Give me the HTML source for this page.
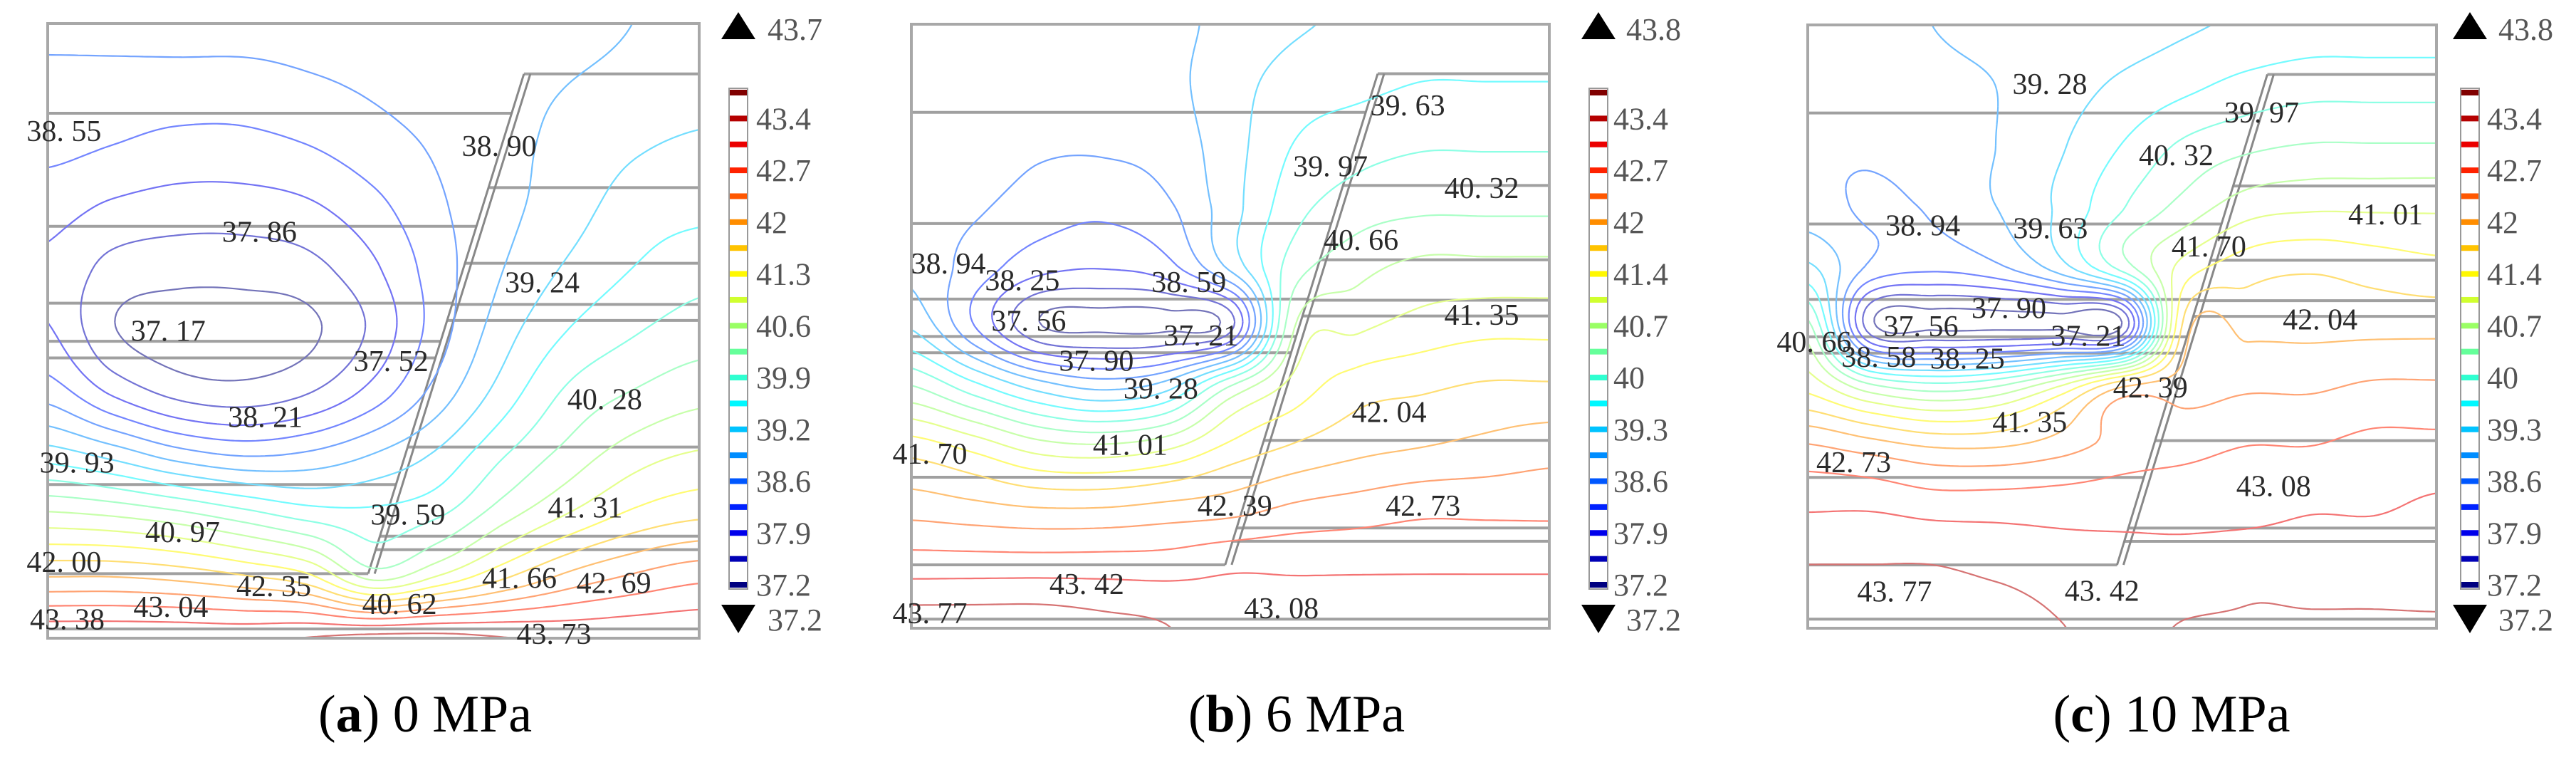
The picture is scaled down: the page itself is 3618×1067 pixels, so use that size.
<!DOCTYPE html>
<html><head><meta charset="utf-8"><style>
html,body{margin:0;padding:0;background:#fff;}
svg{display:block;}
text{font-family:"Liberation Serif",serif;}
</style></head><body>
<svg id="fig" width="3618" height="1067" viewBox="0 0 3618 1067" xmlns="http://www.w3.org/2000/svg"></svg>
<script>
// ---------- DATA ----------
const gridA = [
[38.9,38.9,38.9,38.9,38.9,38.9,38.9,38.9,39.0,39.1,39.2],
[38.6,38.6,38.6,38.6,38.7,38.8,38.9,39.0,39.1,39.2,39.3],
[38.5,38.4,38.3,38.3,38.4,38.6,38.8,39.0,39.2,39.4,39.5],
[38.2,38.0,37.9,37.9,38.0,38.3,38.7,39.0,39.3,39.6,39.7],
[38.0,37.6,37.5,37.5,37.6,38.0,38.6,39.1,39.5,39.8,40.0],
[38.1,37.4,37.2,37.2,37.3,37.8,38.6,39.3,39.8,40.1,40.3],
[38.6,38.0,37.6,37.5,37.7,38.2,38.9,39.6,40.2,40.5,40.7],
[39.6,39.3,38.9,38.7,38.8,39.1,39.5,40.1,40.6,41.0,41.2],
[40.9,40.8,40.6,40.3,40.0,39.9,40.1,40.7,41.2,41.6,41.8],
[42.2,42.2,42.1,41.9,41.6,40.7,41.2,41.8,42.3,42.6,42.8],
[43.5,43.5,43.5,43.5,43.6,43.7,43.7,43.6,43.5,43.5,43.5]];
const gridB = [
[39.0,38.9,38.9,38.9,39.0,39.2,39.4,39.5,39.6,39.6,39.6],
[38.9,38.9,38.9,38.9,39.0,39.3,39.6,39.7,39.8,39.8,39.8],
[38.9,38.9,38.8,38.8,38.9,39.3,39.8,40.0,40.1,40.1,40.1],
[38.9,38.8,38.6,38.5,38.7,39.3,40.0,40.3,40.4,40.4,40.4],
[39.0,38.6,38.2,38.1,38.3,39.2,40.3,40.7,40.9,40.9,40.9],
[39.4,38.4,37.4,37.3,37.3,37.6,40.8,41.1,41.3,41.4,41.4],
[40.5,39.9,39.3,39.0,39.3,40.5,41.3,41.7,41.8,41.9,41.9],
[41.7,41.4,41.0,40.9,41.1,41.6,41.9,42.1,42.2,42.3,42.4],
[42.4,42.3,42.2,42.2,42.3,42.4,42.6,42.7,42.8,42.8,42.8],
[43.1,43.1,43.1,43.1,43.1,43.2,43.2,43.2,43.2,43.2,43.2],
[43.8,43.8,43.8,43.7,43.6,43.3,43.3,43.4,43.5,43.5,43.5]];
const gridC = [
[39.0,39.0,39.1,39.2,39.3,39.3,39.4,39.5,39.6,39.6,39.6],
[38.9,38.9,39.0,39.1,39.3,39.5,39.7,39.9,40.0,40.0,40.0],
[38.8,38.8,38.9,39.1,39.4,39.8,40.2,40.4,40.5,40.5,40.5],
[38.9,38.7,38.8,39.1,39.5,40.1,40.6,41.0,41.1,41.1,41.1],
[39.5,38.7,38.5,38.7,39.3,40.3,41.3,41.7,41.8,41.7,41.6],
[40.6,37.5,37.3,37.3,37.3,37.4,42.0,42.1,42.1,42.1,42.1],
[41.4,40.6,40.3,40.5,41.2,42.2,42.4,42.5,42.5,42.6,42.6],
[42.6,42.4,42.2,42.2,42.4,42.7,42.8,42.9,42.9,43.0,43.0],
[43.2,43.2,43.1,43.1,43.1,43.1,43.1,43.1,43.2,43.2,43.3],
[43.6,43.6,43.6,43.5,43.4,43.4,43.4,43.5,43.5,43.5,43.5],
[43.8,43.8,43.8,43.8,43.6,43.5,43.6,43.6,43.6,43.6,43.6]];
const labelValsA = [38.55,38.90,37.86,39.24,37.17,37.52,40.28,38.21,39.93,39.59,41.31,40.97,42.00,42.35,41.66,42.69,43.04,40.62,43.38,43.73];
const labelUA = [0.025,0.693,0.325,0.759,0.185,0.527,0.855,0.334,0.045,0.553,0.825,0.207,0.025,0.347,0.724,0.869,0.189,0.54,0.03,0.777];
const labelVA = [0.174,0.198,0.338,0.42,0.499,0.548,0.61,0.639,0.713,0.798,0.786,0.826,0.875,0.914,0.901,0.909,0.948,0.943,0.968,0.992];
const labelValsB = [39.63,39.97,40.32,40.66,38.94,38.25,38.59,37.56,37.21,41.35,37.90,39.28,42.04,41.70,41.01,42.39,42.73,43.42,43.77,43.08];
const labelUB = [0.778,0.657,0.894,0.705,0.058,0.174,0.435,0.184,0.454,0.894,0.29,0.391,0.749,0.029,0.343,0.507,0.802,0.275,0.029,0.58];
const labelVB = [0.133,0.234,0.27,0.356,0.395,0.423,0.426,0.49,0.514,0.48,0.556,0.602,0.641,0.71,0.695,0.796,0.796,0.926,0.974,0.966];
const labelValsC = [39.28,39.97,40.32,41.01,38.94,39.63,41.70,37.90,42.04,37.56,37.21,38.58,38.25,40.66,42.39,41.35,42.73,43.08,43.77,43.42];
const labelUC = [0.385,0.722,0.586,0.919,0.183,0.386,0.638,0.32,0.815,0.18,0.446,0.113,0.254,0.01,0.545,0.353,0.073,0.741,0.138,0.468];
const labelVC = [0.097,0.144,0.215,0.313,0.331,0.336,0.366,0.468,0.487,0.498,0.514,0.549,0.552,0.524,0.6,0.657,0.724,0.763,0.938,0.937];
const barLabelsA = ["43.4","42.7","42","41.3","40.6","39.9","39.2","38.6","37.9","37.2"];
const barLabelsBC = ["43.4","42.7","42","41.4","40.7","40","39.3","38.6","37.9","37.2"];
const maxLabels = ["43.7","43.8","43.8"];
const minLabels = ["37.2","37.2","37.2"];
const captionLetters = ["a","b","c"];
const captionPressures = ["0 MPa","6 MPa","10 MPa"];
const levelMin = 37.2, levelStep = 0.345, levelCount = 20;

// ---------- LAYOUT ----------
const NS = "http://www.w3.org/2000/svg";
const svg = document.getElementById("fig");
const panels = [
 {x0:67,y0:33,w:915,h:863, bar:1024, barLbl:1062, arrLbl:1078, cap:597},
 {x0:1280,y0:34,w:896,h:848, bar:2232, barLbl:2266, arrLbl:2284, cap:1821},
 {x0:2539,y0:35,w:883,h:847, bar:3456, barLbl:3493, arrLbl:3509, cap:3050}];
const grids=[gridA,gridB,gridC];
const labVals=[labelValsA,labelValsB,labelValsC], labU=[labelUA,labelUB,labelUC], labV=[labelVA,labelVB,labelVC];

function mk(tag, attrs, parent){const e=document.createElementNS(NS,tag);for(const k in attrs)e.setAttribute(k,attrs[k]);(parent||svg).appendChild(e);return e;}
function jet(t){t=Math.max(0,Math.min(1,t));
 const r=Math.max(0,Math.min(1,1.5-Math.abs(4*t-3))),g=Math.max(0,Math.min(1,1.5-Math.abs(4*t-2))),b=Math.max(0,Math.min(1,1.5-Math.abs(4*t-1)));
 return "rgb("+Math.round(r*255)+","+Math.round(g*255)+","+Math.round(b*255)+")";}
function jetLight(t){const c=jet(t).match(/\d+/g).map(Number);return "rgb("+c.map(x=>Math.round(x*0.55+255*0.45)).join(",")+")";}
function cr(p0,p1,p2,p3,t){return 0.5*(2*p1+(-p0+p2)*t+(2*p0-5*p1+4*p2-p3)*t*t+(-p0+3*p1-3*p2+p3)*t*t*t);}
function sample(g,u,v){const R=g.length,C=g[0].length;const gx=u*(C-1),gy=v*(R-1);
 const i=Math.min(C-2,Math.floor(gx)),j=Math.min(R-2,Math.floor(gy));const tx=gx-i,ty=gy-j;
 const ci=k=>Math.max(0,Math.min(C-1,k)),cj=k=>Math.max(0,Math.min(R-1,k));
 const rows=[];for(let dj=-1;dj<=2;dj++){const row=g[cj(j+dj)];rows.push(cr(row[ci(i-1)],row[ci(i)],row[ci(i+1)],row[ci(i+2)],tx));}
 return cr(rows[0],rows[1],rows[2],rows[3],ty);}

const leftLines=[0.146,0.330,0.455,0.517,0.544,0.750,0.895];
const rightLines=[0.082,0.267,0.390,0.457,0.483,0.689,0.834,0.856];
const faultTop={u:0.731,v:0.082}, faultBot={u:0.492,v:0.895};
function faultU(v){return faultBot.u+(faultTop.u-faultBot.u)*(v-faultBot.v)/(faultTop.v-faultBot.v);}

panels.forEach((P,pi)=>{
 const g=mk("g",{});
 
 
 const X=u=>P.x0+u*P.w, Y=v=>P.y0+v*P.h;
 const lay=mk("g",{stroke:"#a0a0a0","stroke-width":4,fill:"none"},g);
 
 
 leftLines.forEach(v=>{mk("line",{x1:X(0),y1:Y(v),x2:X(faultU(v)),y2:Y(v)},lay);});
 rightLines.forEach(v=>{mk("line",{x1:X(faultU(v)),y1:Y(v),x2:X(1),y2:Y(v)},lay);});
 mk("line",{x1:X(0),y1:Y(0.985),x2:X(1),y2:Y(0.985)},lay);
 const fl=mk("path",{d:"M"+X(faultTop.u)+" "+Y(faultTop.v)+"L"+X(faultBot.u)+" "+Y(faultBot.v)+"M"+(X(faultTop.u)+9)+" "+Y(faultTop.v)+"L"+(X(faultBot.u)+9)+" "+Y(faultBot.v),stroke:"#888","stroke-width":3},lay);
 
 
 const grid=grids[pi];const NX=150,NY=140;const F=[];
 for(let j=0;j<=NY;j++){const r=[];for(let i=0;i<=NX;i++)r.push(sample(grid,i/NX,j/NY));F.push(r);}
 const cg=mk("g",{fill:"none","stroke-width":2.2,"stroke-linejoin":"round"},g);
 
 
 for(let k=0;k<levelCount;k++){
  const L=levelMin+levelStep*k+levelStep*0.5;let d="";
  for(let j=0;j<NY;j++)for(let i=0;i<NX;i++){
   const a=F[j][i],b=F[j][i+1],c=F[j+1][i+1],dd=F[j+1][i];
   const pts=[];
   const u0=i/NX,u1=(i+1)/NX,v0=j/NY,v1=(j+1)/NY;
   if((a<L)!==(b<L)){const t=(L-a)/(b-a);pts.push([u0+t*(u1-u0),v0]);}
   if((b<L)!==(c<L)){const t=(L-b)/(c-b);pts.push([u1,v0+t*(v1-v0)]);}
   if((dd<L)!==(c<L)){const t=(L-dd)/(c-dd);pts.push([u0+t*(u1-u0),v1]);}
   if((a<L)!==(dd<L)){const t=(L-a)/(dd-a);pts.push([u0,v0+t*(v1-v0)]);}
   const seg=(p,q)=>{d+="M"+X(p[0]).toFixed(1)+" "+Y(p[1]).toFixed(1)+"L"+X(q[0]).toFixed(1)+" "+Y(q[1]).toFixed(1);};
   if(pts.length===2)seg(pts[0],pts[1]);
   else if(pts.length===4){const cen=(a+b+c+dd)/4;if((cen<L)===(a<L)){seg(pts[0],pts[1]);seg(pts[2],pts[3]);}else{seg(pts[0],pts[3]);seg(pts[1],pts[2]);}}
  }
  const p=mk("path",{d:d,stroke:jetLight(k/(levelCount-1))},cg);
  
  
 }
 const fr=mk("rect",{x:P.x0,y:P.y0,width:P.w,height:P.h,fill:"none",stroke:"#a8a8a8","stroke-width":4},g);
 
 
 const lg=mk("g",{"font-size":42,fill:"#2a2a2a","text-anchor":"middle"},g);
 
 
 labVals[pi].forEach((val,n)=>{
  const t=mk("text",{x:X(labU[pi][n]),y:Y(labV[pi][n])+15},lg);
  t.textContent=val.toFixed(2).replace(".",". ");
  
  
 });
 const cb=mk("g",{},g);
 
 
 const bx=P.bar,bw=26,top=130,bot=821;
 mk("rect",{x:bx,y:top-6,width:bw,height:bot-top+12,fill:"#fff",stroke:"#999","stroke-width":2},cb);
 const step=(bot-top)/(levelCount-1);
 for(let k=0;k<levelCount;k++){
  const r=mk("rect",{x:bx+1,y:top+k*step-4,width:bw-2,height:8,fill:jet(1-k/(levelCount-1))},cb);
  
  
 }
 const bl=pi===0?barLabelsA:barLabelsBC;
 bl.forEach((s,n)=>{const t=mk("text",{x:P.barLbl,y:top+(2*n+1)*step+15,"font-size":44,fill:"#555"},cb);t.textContent=s;
  
  });
 const cx=bx+bw/2;
 const up=mk("path",{d:"M"+cx+" 17L"+(cx+24)+" 55L"+(cx-24)+" 55Z",fill:"#000"},cb);
 
 
 const dn=mk("path",{d:"M"+(cx-24)+" 849L"+(cx+24)+" 849L"+cx+" 889Z",fill:"#000"},cb);
 
 
 const mx=mk("text",{x:P.arrLbl,y:56,"font-size":44,fill:"#555"},cb);mx.textContent=maxLabels[pi];
 
 
 const mn=mk("text",{x:P.arrLbl,y:885,"font-size":44,fill:"#555"},cb);mn.textContent=minLabels[pi];
 
 
 const cap=mk("text",{x:P.cap,y:1027,"font-size":74,"text-anchor":"middle",fill:"#000"},g);
 
 
 const t1=mk("tspan",{},cap);t1.textContent="(";
 const t2=mk("tspan",{"font-weight":"bold"},cap);t2.textContent=captionLetters[pi];
 const t3=mk("tspan",{},cap);t3.textContent=") "+captionPressures[pi];
});
</script>
</body></html>
